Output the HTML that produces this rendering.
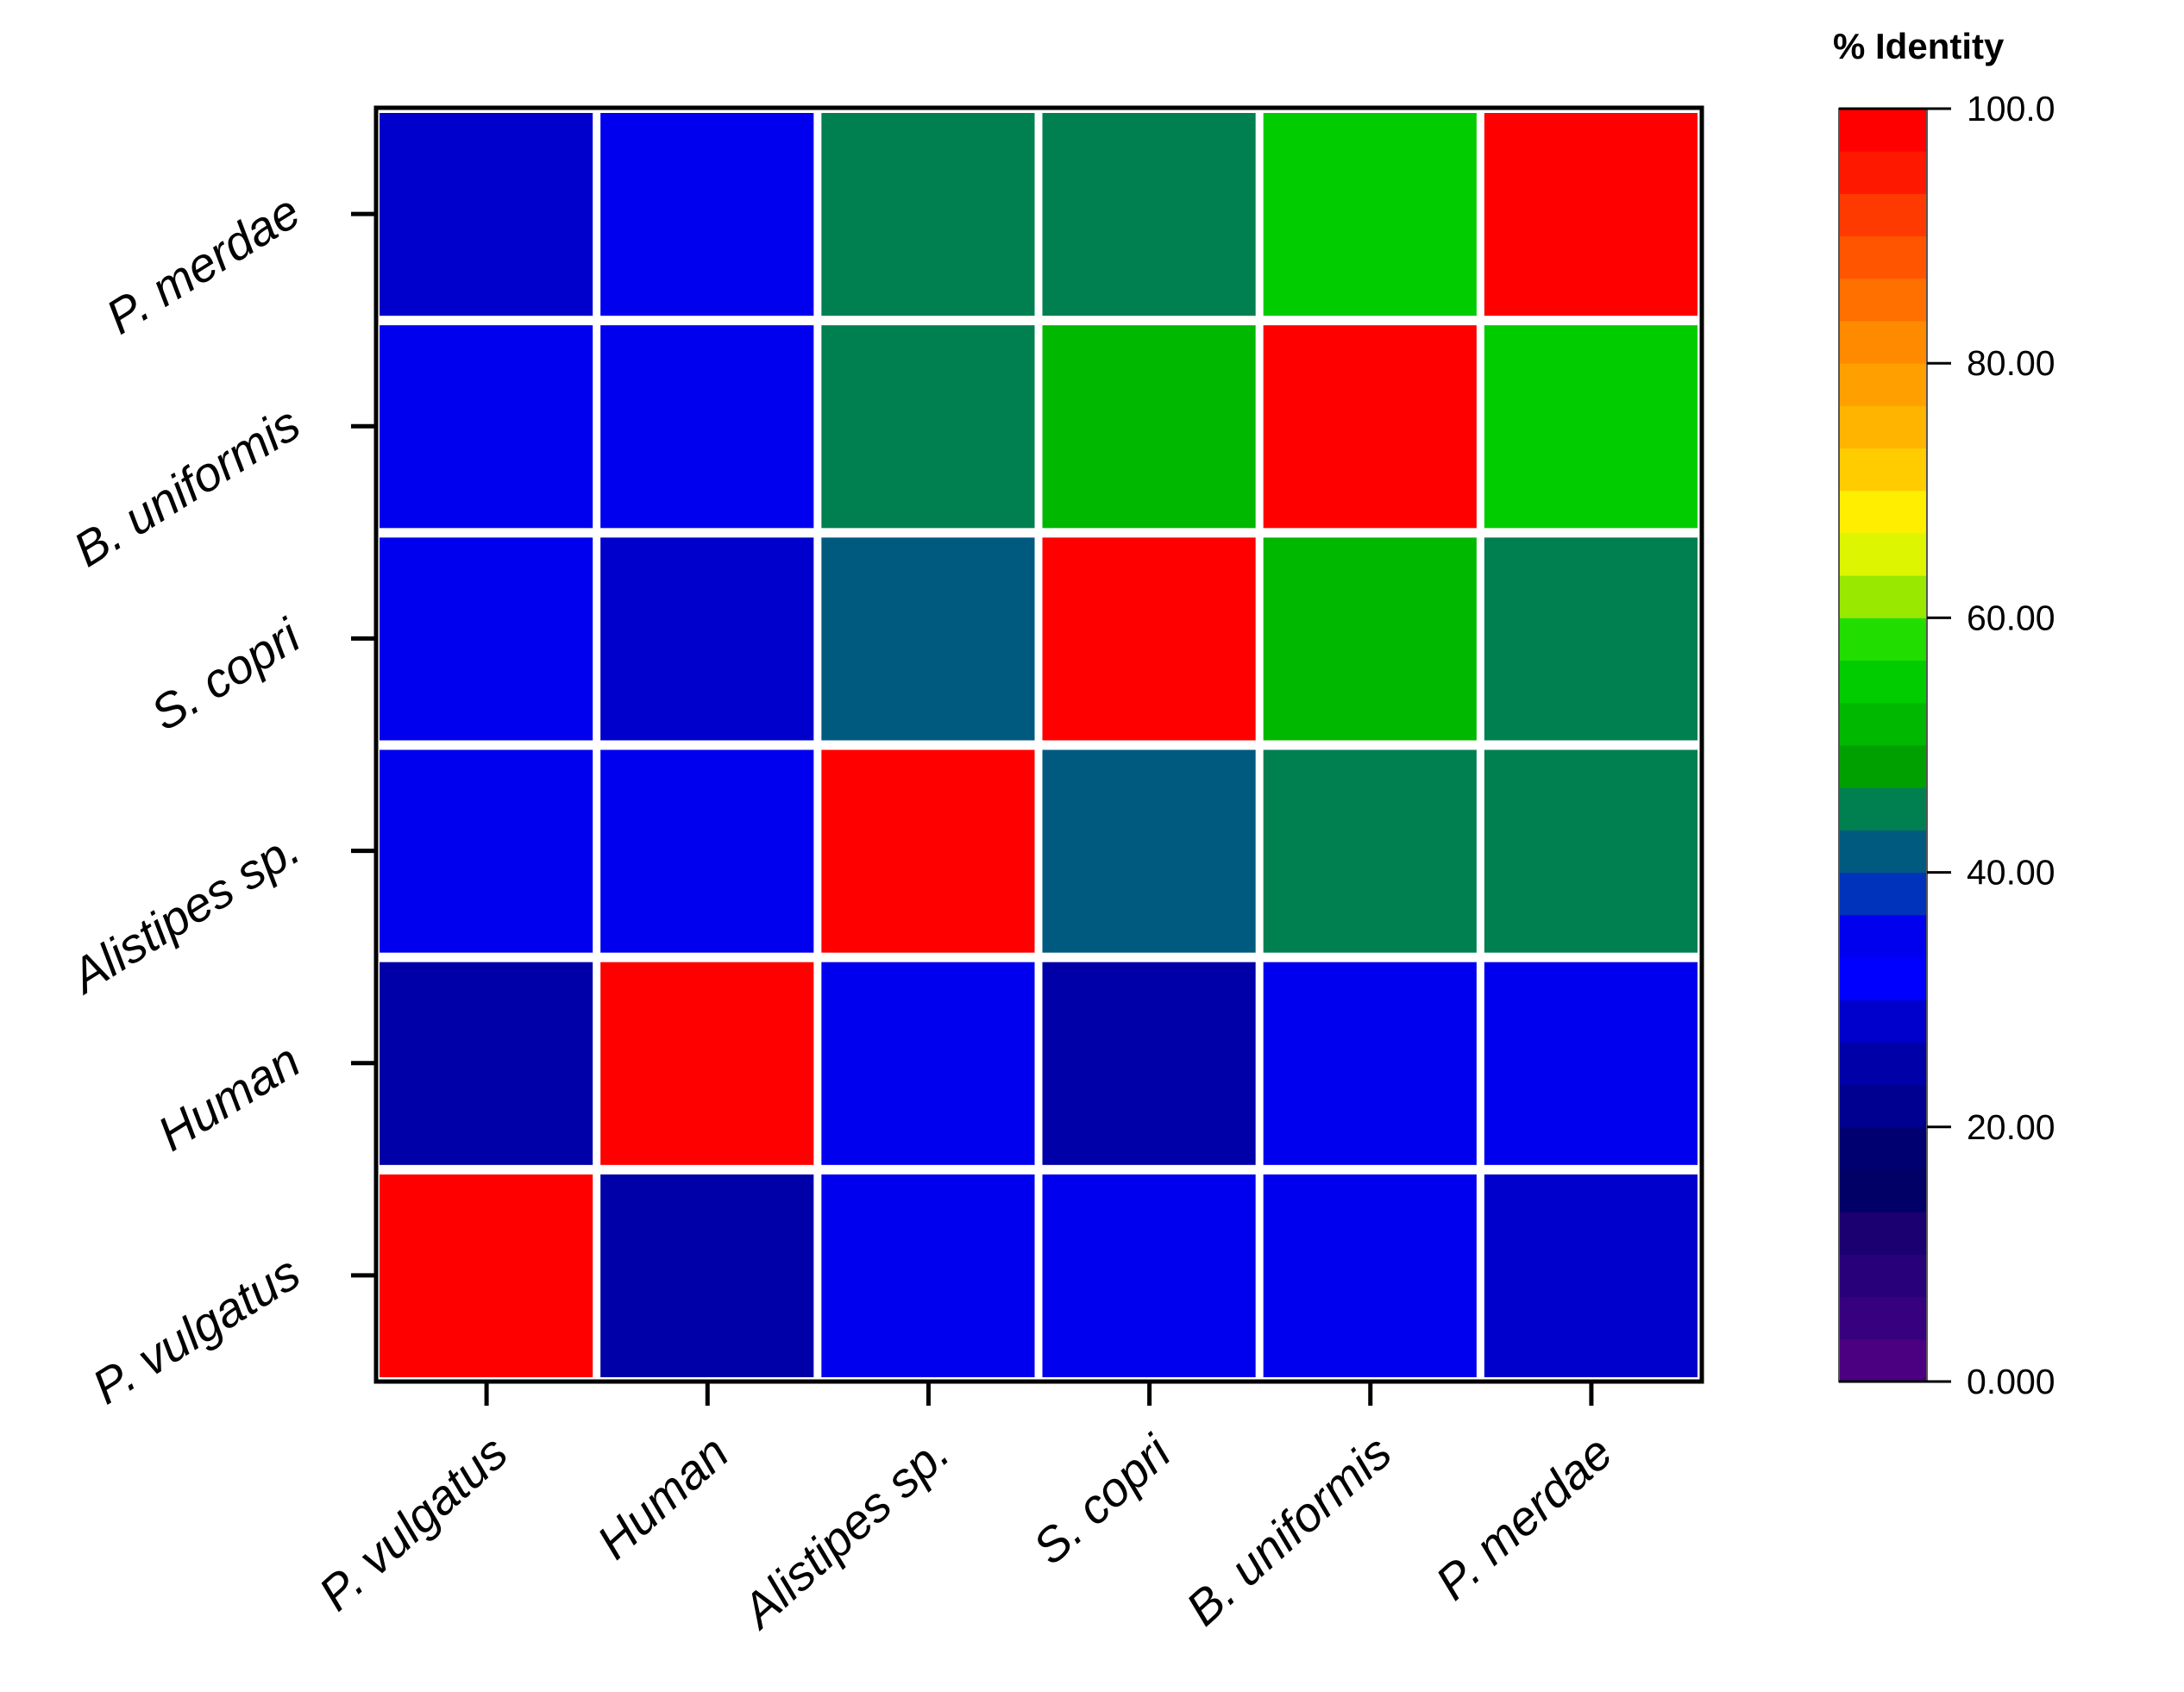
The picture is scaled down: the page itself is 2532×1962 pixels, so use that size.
<!DOCTYPE html>
<html><head><meta charset="utf-8"><style>
html,body{margin:0;padding:0;background:#fff;}
svg{display:block;}
text{font-family:"Liberation Sans",sans-serif;}
</style></head><body>
<svg id="chart" width="2532" height="1962" viewBox="0 0 2532 1962" xmlns="http://www.w3.org/2000/svg">
<g id="cells"></g>
<rect x="436" y="125" width="1537" height="1477" fill="none" stroke="#000" stroke-width="5"/>
<g id="yaxis"></g>
<g id="xaxis"></g>
<g id="cbar"></g>
<text x="2125" y="68" font-size="42" font-weight="bold">% Identity</text>
</svg>
<script>
const colLabels = ["P. vulgatus","Human","Alistipes sp.","S. copri","B. uniformis","P. merdae"];
const rowLabels = ["P. merdae","B. uniformis","S. copri","Alistipes sp.","Human","P. vulgatus"];
const rowPMerdae   = [28, 34, 45, 45, 56, 100];
const rowBUniformis= [34, 34, 45, 52, 100, 56];
const rowSCopri    = [34, 28, 42, 100, 52, 45];
const rowAlistipes = [34, 34, 100, 42, 45, 45];
const rowHuman     = [25, 100, 34, 26, 34, 34];
const rowPVulgatus = [100, 25, 34, 34, 34, 28];
const cbTickValues = [0, 20, 40, 60, 80, 100];
const cbTickLabels = ["0.000","20.00","40.00","60.00","80.00","100.0"];
const bandColors = ["#4a0080","#36007e","#28007a","#1a0070","#000066","#000070","#000090","#0000a8","#0000cc","#0000ff","#0000ee","#0033bb","#005a80","#008050","#00a000","#00b800","#00cc00","#22dd00","#99e800","#ddf500","#ffee00","#ffcc00","#ffb400","#ffa000","#ff8a00","#ff7000","#ff5500","#ff3a00","#ff1800","#ff0000"];

const rows = [rowPMerdae,rowBUniformis,rowSCopri,rowAlistipes,rowHuman,rowPVulgatus];
const NS = "http://www.w3.org/2000/svg";
const px0 = 436, px1 = 1973, py0 = 125, py1 = 1602;
const cw = (px1-px0)/colLabels.length, ch = (py1-py0)/rowLabels.length;
const xPos = i => px0 + i*cw;
const yPos = j => py0 + j*ch;
const colorOf = v => bandColors[Math.max(0, Math.min(bandColors.length-1, Math.floor(v/100*bandColors.length)))];
const cbX0 = 2132, cbX1 = 2234, cbY0 = 126, cbY1 = 1602;
const cbY = v => cbY1 - (v/100)*(cbY1-cbY0);

function mk(tag, attrs, parent){const e=document.createElementNS(NS,tag);for(const k in attrs)e.setAttribute(k,attrs[k]);parent.appendChild(e);return e;}

const cells = document.getElementById('cells');
rows.forEach((r,j)=>r.forEach((v,i)=>{
  const e = mk('rect',{x:xPos(i)+4,y:yPos(j)+6,width:cw-9,height:ch-11,fill:colorOf(v)},cells);
  
  
}));

const ya = document.getElementById('yaxis');
rowLabels.forEach((l,j)=>{
  const cy = yPos(j)+ch/2;
  const t = mk('line',{x1:407,x2:436,y1:cy,y2:cy,stroke:'#000','stroke-width':5},ya);
  
  
  const tx = mk('text',{x:352,y:cy+8,'font-size':56,'font-style':'italic','text-anchor':'end',transform:`rotate(-32 352 ${cy+8})`},ya);
  tx.textContent = l;
  
  
});

const xa = document.getElementById('xaxis');
colLabels.forEach((l,i)=>{
  const cx = xPos(i)+cw/2;
  const t = mk('line',{x1:cx,x2:cx,y1:1602,y2:1630,stroke:'#000','stroke-width':5},xa);
  
  
  const ax = cx+28, ay = 1690;
  const tx = mk('text',{x:ax,y:ay,'font-size':56,'font-style':'italic','text-anchor':'end',transform:`rotate(-42 ${ax} ${ay})`},xa);
  tx.textContent = l;
  
  
});

const cb = document.getElementById('cbar');
bandColors.forEach((c,k)=>{
  const v0 = k*100/bandColors.length, v1 = (k+1)*100/bandColors.length;
  const e = mk('rect',{x:cbX0,y:cbY(v1),width:cbX1-cbX0,height:cbY(v0)-cbY(v1)+0.5,fill:c},cb);
  
  
});
const cbf = mk('rect',{x:cbX0,y:cbY0,width:cbX1-cbX0,height:cbY1-cbY0,fill:'none',stroke:'#555','stroke-width':2},cb);


cbTickValues.forEach((v,k)=>{
  const y = cbY(v);
  const l = mk('line',{x1:(v===0||v===100)?cbX0:cbX1,x2:2262,y1:y,y2:y,stroke:'#000','stroke-width':3},cb);
  
  
  const t = mk('text',{x:2280,y:y+14,'font-size':41},cb);
  t.textContent = cbTickLabels[k];
  
  
});
</script>
</body></html>
